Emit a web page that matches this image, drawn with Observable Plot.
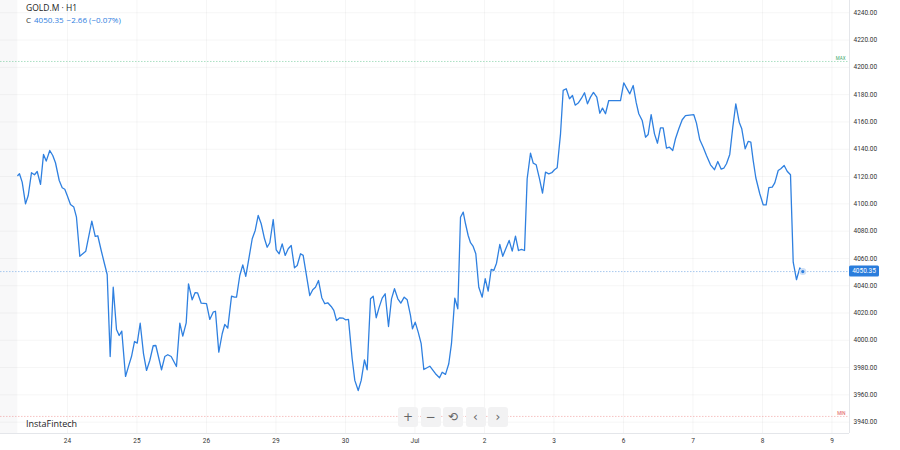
<!DOCTYPE html>
<html>
<head>
<meta charset="utf-8">
<script src="https://cdn.jsdelivr.net/npm/d3@7"></script>
<script src="https://cdn.jsdelivr.net/npm/@observablehq/plot@0.6"></script>
<style>
  html, body { margin: 0; padding: 0; background: #fff; }
  #wrap { position: relative; width: 900px; height: 450px; font-family: "Open Sans", sans-serif; }
  #wrap svg { position: absolute; left: 0; top: 0; }
  .hdr1 { position: absolute; left: 26px; top: 2px; font-size: 8.5px; line-height: 12px; color: #222; font-weight: 500; }
  .hdr2 { position: absolute; left: 26px; top: 14px; font-size: 8px; line-height: 12px; color: #333; }
  .hdr2 .v { color: #2f80e0; margin-left: 3px; }
  .brand { position: absolute; left: 26px; top: 417px; font-size: 9px; line-height: 14px; color: #222; }
  .btn { position: absolute; top: 407px; width: 20px; height: 20px; border-radius: 3px; background: #f2f2f3;
         color: #666; font-size: 12px; line-height: 20px; text-align: center; font-family: "DejaVu Sans", sans-serif; }
</style>
</head>
<body>
<div id="wrap"></div>
<script>
// ---- data ----
const symbol = "GOLD.M · H1";
const dayLabels = ["24", "25", "26", "29", "30", "Jul", "2", "3", "6", "7", "8", "9"];
const dayTicks = [0, 1, 2, 3, 4, 5, 6, 7, 8, 9, 10, 11];
const priceTicks = [3940, 3960, 3980, 4000, 4020, 4040, 4060, 4080, 4100, 4120, 4140, 4160, 4180, 4200, 4220, 4240];
const lastPrice = 4050.35;
const change = -2.66;
const changePct = -0.07;
const maxLevel = 4204.3;
const minLevel = 3944.2;
// trading-day position (0 = "24") and close price
const t = [
  -0.715,-0.691,-0.652,-0.604,-0.565,-0.518,-0.475,-0.436,-0.388,-0.345,-0.306,-0.255,-0.212,-0.173,-0.119,-0.076,-0.039,-0.004,
  0.043,0.091,0.129,0.177,0.263,0.350,0.399,0.436,0.485,0.532,0.571,0.614,0.658,0.705,0.744,0.781,0.835,0.882,0.921,0.964,
  1.003,1.046,1.094,1.137,1.184,1.233,1.271,1.353,1.400,1.443,1.492,1.568,1.616,1.659,1.708,1.741,1.794,1.837,1.871,1.924,
  2.000,2.047,2.096,2.129,2.177,2.226,2.263,2.306,2.360,2.403,2.432,2.479,2.522,2.565,2.609,2.658,2.701,2.744,2.787,2.835,2.873,2.911,2.960,
  3.003,3.046,3.089,3.132,3.176,3.219,3.266,3.305,3.353,3.391,3.486,3.529,3.568,3.612,3.659,3.702,3.745,3.794,3.832,3.871,3.918,3.967,
  4.000,4.043,4.096,4.134,4.183,4.226,4.273,4.312,4.360,4.399,4.442,4.485,4.528,4.571,4.619,4.662,4.705,4.753,4.796,4.845,4.888,4.935,4.964,
  5.003,5.046,5.089,5.127,5.213,5.295,5.353,5.391,5.439,5.486,5.525,5.573,5.616,5.655,5.694,5.727,5.765,5.799,5.837,5.875,5.918,5.967,
  6.010,6.053,6.096,6.134,6.173,6.220,6.263,6.306,6.355,6.399,6.446,6.489,6.532,6.576,6.614,6.662,6.701,6.744,6.791,6.835,6.878,6.925,6.968,
  7.007,7.046,7.094,7.132,7.176,7.223,7.266,7.305,7.353,7.396,7.439,7.482,7.525,7.568,7.616,7.659,7.698,7.741,7.788,7.957,
  8.004,8.043,8.091,8.140,8.183,8.220,8.269,8.317,8.355,8.398,8.446,8.489,8.532,8.571,8.619,8.662,8.709,8.748,8.796,8.845,8.892,
  9.012,9.050,9.098,9.147,9.194,9.252,9.309,9.357,9.406,9.443,9.482,9.529,9.573,9.616,9.665,9.702,9.751,9.794,9.832,9.866,9.904,9.961,
  10.010,10.053,10.091,10.140,10.177,10.226,10.263,10.312,10.355,10.403,10.442,10.489,10.537,10.580
];
const close = [
  4120.8,4122.0,4115.9,4100.0,4106.1,4122.8,4121.3,4123.7,4114.2,4136.2,4131.3,4139.1,4135.4,4130.1,4117.1,4111.8,4110.7,4106.1,
  4099.5,4097.6,4090.2,4061.6,4065.3,4087.3,4076.1,4076.6,4065.8,4056.1,4048.2,3988.1,4038.9,4007.9,4003.5,4006.7,3973.5,3981.6,3988.1,3999.1,
  3997.9,4012.5,3990.1,3977.9,3985.2,3996.0,3996.2,3978.4,3988.1,3989.4,3988.1,3980.8,4012.5,4003.0,4012.8,4041.4,4029.7,4035.0,4034.8,4027.2,
  4026.8,4015.3,4020.6,4021.3,3991.3,4004.8,4011.6,4008.9,4032.3,4031.6,4031.6,4047.5,4055.3,4046.8,4059.7,4074.4,4080.5,4091.5,4085.4,4074.4,4068.2,4071.5,4088.5,
  4066.3,4063.4,4070.7,4062.2,4067.1,4069.5,4053.1,4054.8,4063.4,4062.2,4032.8,4037.0,4038.9,4043.8,4031.2,4026.8,4027.5,4024.8,4021.9,4014.5,4016.5,4016.2,
  4015.0,4015.3,3986.5,3970.6,3963.2,3970.6,3985.7,3978.4,4030.4,4032.3,4016.5,4024.3,4030.9,4034.1,4010.1,4030.4,4037.8,4030.4,4027.2,4031.6,4029.7,4018.2,4008.4,
  4013.3,4006.0,3997.5,3978.6,3981.0,3975.5,3972.5,3976.6,3975.0,3982.8,3997.5,4030.9,4023.1,4090.2,4093.9,4085.4,4076.8,4071.5,4068.8,4063.4,4038.9,4031.6,
  4045.1,4036.0,4051.9,4051.2,4056.5,4070.2,4061.6,4067.1,4073.2,4065.3,4076.3,4065.8,4066.6,4065.8,4118.4,4137.1,4129.8,4128.6,4118.4,4107.8,4123.2,4122.0,4122.8,
  4125.0,4126.4,4151.3,4183.1,4184.3,4177.0,4179.4,4172.3,4174.1,4177.4,4181.4,4173.3,4178.2,4181.6,4178.2,4166.4,4170.1,4166.0,4175.7,4175.7,
  4188.7,4185.0,4180.6,4186.7,4174.1,4166.0,4161.1,4148.8,4150.8,4165.3,4151.3,4144.4,4155.7,4155.7,4140.8,4141.5,4139.1,4147.7,4155.0,4161.6,4164.7,
  4165.3,4159.1,4146.9,4141.5,4135.4,4128.6,4125.0,4131.0,4125.4,4126.1,4129.4,4136.2,4156.2,4173.3,4159.8,4155.0,4140.3,4145.7,4145.2,4131.8,4119.1,4107.4,
  4099.3,4099.3,4111.8,4112.2,4115.4,4124.4,4125.7,4128.1,4123.9,4121.3,4057.2,4044.4,4053.1,4050.35
];

// ---- build table ----
const series = t.map((d, i) => ({ t: d, close: close[i] }));
const last = series[series.length - 1];

const xDomain = [-0.964, 11.252];
const yDomain = [3931.7, 4249.0];
const blue = "#2f80e0";
const fmt = d3.format(".2f");

const chart = Plot.plot({
  width: 900,
  height: 450,
  marginLeft: 0,
  marginRight: 51,
  marginTop: 0,
  marginBottom: 17,
  style: { fontFamily: "Roboto, sans-serif", background: "transparent", overflow: "visible" },
  x: { type: "linear", domain: xDomain, axis: null, label: null },
  y: { type: "linear", domain: yDomain, axis: null, label: null },
  marks: [
    // empty (no data) band at the left
    Plot.rect([0], { x1: xDomain[0], x2: series[0].t, y1: yDomain[0], y2: yDomain[1], fill: "#f8f8f9" }),
    Plot.gridY(priceTicks, { stroke: "#000", strokeOpacity: 0.04 }),
    Plot.gridX(dayTicks, { stroke: "#000", strokeOpacity: 0.04 }),
    Plot.ruleY([yDomain[0]], { stroke: "#e4e6ea" }),
    Plot.ruleX([xDomain[1]], { stroke: "#e4e6ea" }),
    // max / min levels
    Plot.ruleY([maxLevel], { stroke: "#5cc48a", strokeOpacity: 0.5, strokeDasharray: "1.5,1.5" }),
    Plot.ruleY([minLevel], { stroke: "#f08a8a", strokeOpacity: 0.5, strokeDasharray: "1.5,1.5" }),
    Plot.text([maxLevel], { x: xDomain[1], y: d => d, text: () => "MAX", textAnchor: "end", dx: -4, dy: -2.5, fontSize: 4.5, fill: "#3aa86a" }),
    Plot.text([minLevel], { x: xDomain[1], y: d => d, text: () => "MIN", textAnchor: "end", dx: -4, dy: -2.5, fontSize: 4.5, fill: "#e05555" }),
    // current price line
    Plot.ruleY([lastPrice], { stroke: "#a8c8ee", strokeDasharray: "1.5,1.5" }),
    // price line
    Plot.line(series, { x: "t", y: "close", stroke: blue, strokeWidth: 1.3, strokeLinejoin: "round" }),
    Plot.dot([last], { x: "t", y: "close", r: 3.5, fill: "#cfe0f6", stroke: "none" }),
    Plot.dot([last], { x: "t", y: "close", r: 1.6, fill: blue, stroke: "none" }),
    // axes
    Plot.axisY(priceTicks, { anchor: "right", label: null, tickSize: 0, tickPadding: 4, tickFormat: fmt, fontSize: 6.5, fill: "#333" }),
    Plot.axisX(dayTicks, { anchor: "bottom", label: null, tickSize: 0, tickPadding: 5, tickFormat: i => dayLabels[i], fontSize: 6.5, fill: "#333" })
  ]
});

// price tag on the right axis, placed with the chart's y scale
const yPx = chart.scale("y").apply(lastPrice);
const xRight = chart.scale("x").apply(xDomain[1]);
const svg = d3.select(chart);
svg.append("rect")
  .attr("x", xRight).attr("y", yPx - 5.5).attr("width", 30).attr("height", 11)
  .attr("rx", 1.5).attr("fill", "#2a7ddc");
svg.append("text")
  .attr("x", xRight + 15).attr("y", yPx).attr("dy", "0.35em")
  .attr("text-anchor", "middle").attr("fill", "#fff")
  .attr("font-size", 6.5).attr("font-family", "Roboto, sans-serif")
  .text(fmt(lastPrice));

const wrap = document.getElementById("wrap");
wrap.appendChild(chart);

// header, brand, controls
const h1 = document.createElement("div");
h1.className = "hdr1"; h1.textContent = symbol; wrap.appendChild(h1);
const h2 = document.createElement("div");
h2.className = "hdr2";
h2.innerHTML = `C<span class="v">${fmt(lastPrice)}</span><span class="v">${fmt(change)} (${fmt(changePct)}%)</span>`;
wrap.appendChild(h2);
const brand = document.createElement("div");
brand.className = "brand"; brand.textContent = "InstaFintech"; wrap.appendChild(brand);
const btns = ["+", "−", "⟲", "‹", "›"];
btns.forEach((b, i) => {
  const el = document.createElement("div");
  el.className = "btn";
  el.style.left = (398 + i * 22.5) + "px";
  el.textContent = b;
  wrap.appendChild(el);
});
</script>
</body>
</html>
